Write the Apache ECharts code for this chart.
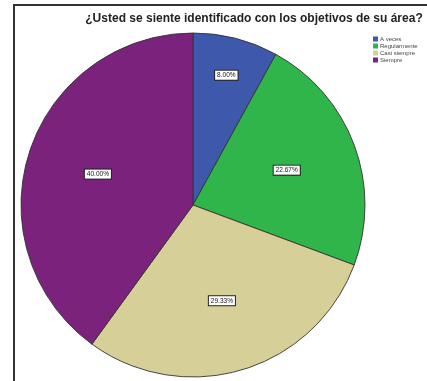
<!DOCTYPE html>
<html>
<head>
<meta charset="utf-8">
<script src="https://cdn.jsdelivr.net/npm/echarts@6/dist/echarts.min.js"></script>
<style>
  html, body { margin: 0; padding: 0; background: #fff; }
  #chart { width: 427px; height: 381px; }
</style>
</head>
<body>
<div id="chart"></div>
<script>
// Survey answers and their shares (percent)
const categories = ['A veces', 'Regularmente', 'Casi siempre', 'Siempre'];
const shares = [8.00, 22.67, 29.33, 40.00];
const sliceColors = ['#3e58ac', '#2fb54a', '#d6d098', '#7a227c'];
const chartTitle = '¿Usted se siente identificado con los objetivos de su área?';

const pieCenter = [193, 205];
const pieRadius = 172;

const sliceData = categories.map((name, i) => ({
  name,
  value: shares[i],
  itemStyle: { color: sliceColors[i] }
}));

// Label-only ring: each percent box sits in the middle of a transparent ring
function labelSeries(showIndex, inner) {
  return {
    type: 'pie',
    silent: true,
    center: pieCenter,
    radius: [inner, pieRadius],
    startAngle: 90,
    itemStyle: { color: 'rgba(0,0,0,0)', borderWidth: 0 },
    emphasis: { disabled: true },
    data: categories.map((name, i) => ({
      name,
      value: shares[i],
      label: { show: showIndex.includes(i) }
    })),
    label: {
      position: 'inside',
      formatter: p => p.value.toFixed(2) + '%',
      fontFamily: 'Liberation Sans, Arial, sans-serif',
      fontSize: 6.5,
      color: '#111',
      backgroundColor: '#fff',
      borderColor: '#222',
      borderWidth: 1,
      padding: [1, 2, 1, 2]
    },
    labelLine: { show: false },
    z: 5
  };
}

const chart = echarts.init(document.getElementById('chart'));
chart.setOption({
  animation: false,
  backgroundColor: '#fff',
  title: {
    text: chartTitle,
    left: 249,
    textAlign: 'center',
    top: 8,
    textStyle: {
      fontFamily: 'Liberation Sans, Arial, sans-serif',
      fontSize: 12,
      fontWeight: 'bold',
      color: '#222'
    }
  },
  legend: {
    orient: 'vertical',
    left: 368,
    top: 31,
    itemWidth: 5,
    itemHeight: 5,
    itemGap: 1,
    icon: 'rect',
    itemStyle: { borderWidth: 0 },
    textStyle: {
      fontFamily: 'Liberation Sans, Arial, sans-serif',
      fontSize: 6,
      lineHeight: 5.5,
      color: '#444',
      padding: [0, 0, 0, -3]
    },
    data: categories
  },
  graphic: [
    { type: 'line', shape: { x1: 14, y1: 5, x2: 427, y2: 5 }, style: { stroke: '#333', lineWidth: 2 } },
    { type: 'line', shape: { x1: 14, y1: 4, x2: 14, y2: 381 }, style: { stroke: '#333', lineWidth: 2 } }
  ],
  series: [
    {
      type: 'pie',
      center: pieCenter,
      radius: pieRadius,
      startAngle: 90,
      clockwise: true,
      silent: true,
      data: sliceData,
      itemStyle: { borderColor: '#333', borderWidth: 0.9 },
      label: { show: false },
      labelLine: { show: false }
    },
    labelSeries([0], 90),
    labelSeries([1, 2, 3], 22)
  ]
});
</script>
</body>
</html>
